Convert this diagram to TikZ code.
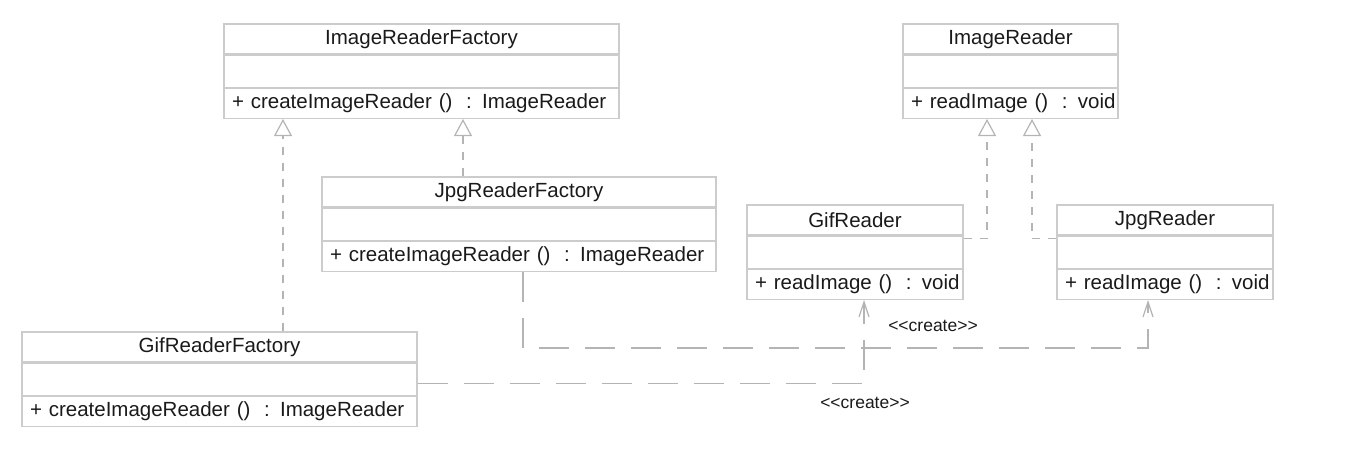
\documentclass[tikz,border=0pt]{standalone}
\usepackage{fontspec}
\setmainfont{Liberation Sans}
\usetikzlibrary{arrows.meta,positioning}
\definecolor{boxline}{HTML}{CCCCCC}
\definecolor{conline}{HTML}{B4B4B4}
\definecolor{txtgray}{HTML}{1A1A1A}

\begin{document}
\begin{tikzpicture}[x=1pt,y=-1pt,font=\fontsize{20.5}{24}\selectfont,text=txtgray,
  ctitle/.style={draw=boxline,line width=1.2pt,text width=#1,align=center,minimum height=30pt,inner sep=0pt},
  cempty/.style={draw=boxline,line width=1.2pt,minimum width=#1,minimum height=32pt,inner sep=0pt},
  cmeth/.style={draw=boxline,line width=1.2pt,text width=#1,align=left,minimum height=30pt,inner sep=0pt},
  realize/.style={draw=conline,line width=1.2pt,dash pattern=on 8pt off 8pt,-{Triangle[open,length=17pt,width=18pt]}},
  depend/.style={draw=conline,line width=1.2pt,dash pattern=on 30pt off 16pt,-{Straight Barb[length=15pt,width=10pt]}},
  stereo/.style={font=\fontsize{17.5}{20}\selectfont}]
  \useasboundingbox (0,0) rectangle (1357,452);

  % factories
  \node[ctitle=395pt] (irf-t) at (421.5,39) {ImageReaderFactory};
  \node[cempty=395pt,below=0pt of irf-t] (irf-e) {};
  \node[cmeth=395pt,below=0pt of irf-e] (irf-m) {\hspace*{8pt}+ createImageReader ()\ \ : ImageReader};

  \node[ctitle=394pt] (jrf-t) at (519,192) {JpgReaderFactory};
  \node[cempty=394pt,below=0pt of jrf-t] (jrf-e) {};
  \node[cmeth=394pt,below=0pt of jrf-e] (jrf-m) {\hspace*{8pt}+ createImageReader ()\ \ : ImageReader};

  \node[ctitle=395pt] (grf-t) at (219.5,347) {GifReaderFactory};
  \node[cempty=395pt,below=0pt of grf-t] (grf-e) {};
  \node[cmeth=395pt,below=0pt of grf-e] (grf-m) {\hspace*{8pt}+ createImageReader ()\ \ : ImageReader};

  % products
  \node[ctitle=215pt] (ir-t) at (1010.5,39) {ImageReader};
  \node[cempty=215pt,below=0pt of ir-t] (ir-e) {};
  \node[cmeth=215pt,below=0pt of ir-e] (ir-m) {\hspace*{8pt}\mbox{+ readImage ()\ \ : void}};

  \node[ctitle=216pt] (gr-t) at (855,220) {GifReader};
  \node[cempty=216pt,below=0pt of gr-t] (gr-e) {};
  \node[cmeth=216pt,below=0pt of gr-e] (gr-m) {\hspace*{8pt}\mbox{+ readImage ()\ \ : void}};

  \node[ctitle=216pt] (jr-t) at (1165,220) {JpgReader};
  \node[cempty=216pt,below=0pt of jr-t] (jr-e) {};
  \node[cmeth=216pt,below=0pt of jr-e] (jr-m) {\hspace*{8pt}\mbox{+ readImage ()\ \ : void}};

  % realizations
  \draw[realize] (grf-t.north -| 283,0) -- (irf-m.south -| 283,0);
  \draw[realize] (jrf-t.north -| 463,0) -- (irf-m.south -| 463,0);
  \draw[realize] ([yshift=-3pt]gr-t.south east) -| (ir-m.south -| 987,0);
  \draw[realize] ([yshift=-3pt]jr-t.south west) -| (ir-m.south -| 1032,0);

  % dependencies
  \draw[depend] (jrf-m.south -| 523,0) |- (1148,348) -- (jr-m.south -| 1148,0);
  \draw[depend] ([yshift=-4pt]grf-e.east) -| (gr-m.south -| 864,0);
  \node[stereo] (crt-a) at (933,326) {<\kern0pt<create>\kern0pt>};
  \node[stereo] (crt-b) at (865,403) {<\kern0pt<create>\kern0pt>};
\end{tikzpicture}
\end{document}
